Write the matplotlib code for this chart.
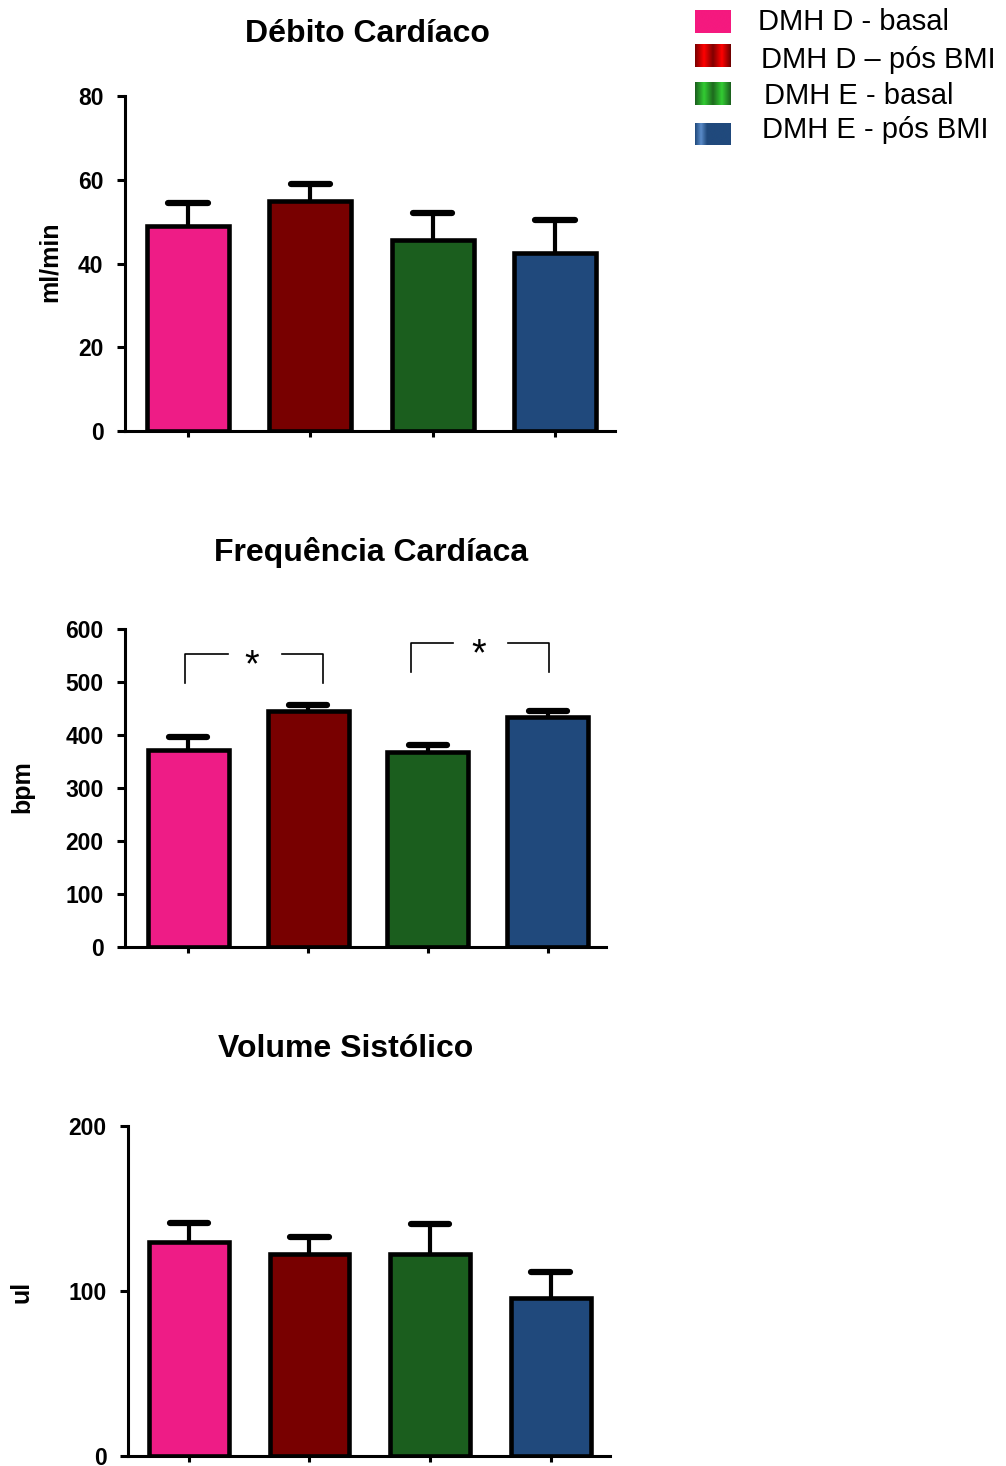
import numpy as np
import matplotlib
matplotlib.use('Agg')
import matplotlib.pyplot as plt
from matplotlib.colors import LinearSegmentedColormap

plt.rcParams['font.family'] = ['Liberation Sans', 'DejaVu Sans']

# Group names and colours
groups = ['DMH D - basal', 'DMH D \u2013 pós BMI', 'DMH E - basal', 'DMH E - pós BMI']
bar_colors = ['#EE1C86', '#780000', '#1B5E1E', '#20497C']

# Débito cardíaco (ml/min)
dc_mean = [49, 55, 45.5, 42.5]
dc_err = [5.5, 4, 6.5, 8]

# Frequência cardíaca (bpm)
fc_mean = [372, 445, 368, 434]
fc_err = [24, 11, 13, 11]

# Volume sistólico (ul)
vs_mean = [130, 122.5, 122.5, 96]
vs_err = [11, 10.5, 18, 15.5]

fig = plt.figure(figsize=(10.06, 14.66), dpi=100)


def panel(rect, means, errs, ylim, yticks, xlim, width):
    ax = fig.add_axes(rect)
    x = np.arange(len(means))
    means = np.array(means)
    top = means + np.array(errs)
    # upper error bars only: stem plus a rounded cap
    ax.vlines(x, means, top, color='black', lw=3, zorder=1)
    ax.hlines(top, x - 0.16, x + 0.16, color='black', lw=4.5, zorder=1,
              capstyle='round')
    ax.bar(x, means, width=width, color=bar_colors, edgecolor='black',
           linewidth=3.3, zorder=2)
    ax.set_xlim(xlim)
    ax.set_ylim(ylim)
    ax.set_yticks(yticks)
    ax.set_xticks(x)
    ax.set_xticklabels([])
    for s in ['top', 'right']:
        ax.spines[s].set_visible(False)
    for s in ['left', 'bottom']:
        ax.spines[s].set_linewidth(2.2)
    ax.tick_params(axis='y', direction='out', length=5.5, width=2.2, pad=10,
                   labelsize=16.5)
    ax.tick_params(axis='x', direction='out', length=4, width=2.2)
    for lab in ax.get_yticklabels():
        lab.set_fontweight('bold')
    return ax


ax1 = panel([0.1243, 0.706, 0.487, 0.2285], dc_mean, dc_err, (0, 80),
            [0, 20, 40, 60, 80], (-0.515, 3.49), 0.67)
ax2 = panel([0.1243, 0.354, 0.478, 0.217], fc_mean, fc_err, (0, 600),
            [0, 100, 200, 300, 400, 500, 600], (-0.525, 3.483), 0.675)
ax3 = panel([0.1272, 0.00682, 0.479, 0.225], vs_mean, vs_err, (0, 200),
            [0, 100, 200], (-0.505, 3.49), 0.66)

# significance brackets on heart rate
for xl, xr, g1, g2, ytop, ybot, xs in [(-0.025, 1.125, 0.333, 0.783, 553, 498, 0.53),
                                       (1.858, 3.008, 2.208, 2.667, 574, 519, 2.42)]:
    ax2.plot([xl, xl, g1], [ybot, ytop, ytop], color='black', lw=1.2, clip_on=False)
    ax2.plot([g2, xr, xr], [ytop, ytop, ybot], color='black', lw=1.2, clip_on=False)
    ax2.text(xs, ytop - 24, '*', ha='center', va='center', fontsize=27, clip_on=False)

# titles and axis labels
fig.text(367 / 1006, 1 - 34 / 1466, 'Débito Cardíaco', ha='center', va='center',
         fontsize=23, fontweight='bold')
fig.text(371 / 1006, 1 - 553 / 1466, 'Frequência Cardíaca', ha='center', va='center',
         fontsize=23, fontweight='bold')
fig.text(346 / 1006, 1 - 1049 / 1466, 'Volume Sistólico', ha='center', va='center',
         fontsize=23, fontweight='bold')
fig.text(50 / 1006, 1 - 262 / 1466, 'ml/min', rotation=90, ha='center', va='center',
         fontsize=18, fontweight='bold')
fig.text(22 / 1006, 1 - 787 / 1466, 'bpm', rotation=90, ha='center', va='center',
         fontsize=18, fontweight='bold')
fig.text(22 / 1006, 1 - 1292 / 1466, 'ul', rotation=90, ha='center', va='center',
         fontsize=18, fontweight='bold')

# legend swatches with striped shading
swatch_stripes = [
    ['#F5197F', '#F5197F'],
    ['#7A0000', '#FF0000', '#800000', '#FF0000', '#6A0000'],
    ['#1B5E1E', '#33CC33', '#1E6A1E', '#33CC33', '#1B5E1E'],
    ['#20497C', '#5A8BC8', '#20497C', '#20497C', '#20497C', '#20497C', '#20497C'],
]
swatch_y = [10, 44, 82, 123]
swatch_h = [23, 23, 23, 22]
text_x = [758, 761, 764, 762]
text_y = [22, 60, 96, 130]
grad = np.linspace(0, 1, 200).reshape(1, -1)
for i, stripes in enumerate(swatch_stripes):
    cax = fig.add_axes([695 / 1006, 1 - (swatch_y[i] + swatch_h[i]) / 1466,
                        36 / 1006, swatch_h[i] / 1466])
    cmap = LinearSegmentedColormap.from_list('sw%d' % i, stripes)
    cax.imshow(grad, aspect='auto', cmap=cmap)
    cax.axis('off')
    fig.text(text_x[i] / 1006, 1 - text_y[i] / 1466, groups[i], ha='left',
             va='center', fontsize=21)

fig.savefig('out.png', dpi=100)
